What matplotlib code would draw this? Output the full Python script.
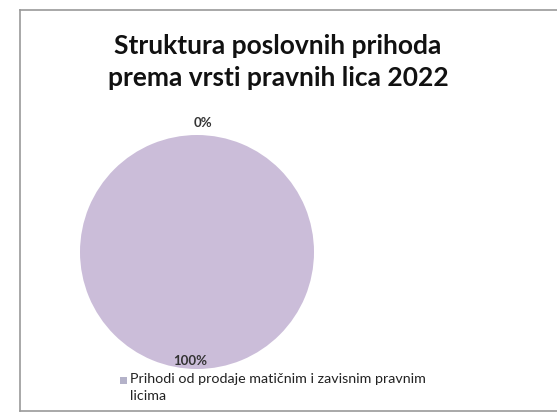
import matplotlib
matplotlib.use("Agg")
import matplotlib.pyplot as plt
import numpy as np
from matplotlib.patches import Rectangle
from matplotlib.lines import Line2D

categories = ["Prihodi od prodaje matičnim i zavisnim pravnim licima", "Ostali poslovni prihodi"]
values = [0, 100]
pct_labels = ["0%", "100%"]
title = "Struktura poslovnih prihoda\nprema vrsti pravnih lica 2022"

colors = ["#B4B2C9", "#CBBDD9"]

W, H = 557, 413
fig = plt.figure(figsize=(W / 100, H / 100), dpi=100)
fig.patch.set_facecolor("white")

# chart frame
fx = lambda px: px / W
fy = lambda py: (H - py) / H
for xs, ys in [((20, 557), (10, 10)), ((20, 20), (10, 411)), ((20, 557), (411, 411))]:
    fig.add_artist(Line2D([fx(x) for x in xs], [fy(y) for y in ys], transform=fig.transFigure,
                          color="#9a9a9a", linewidth=1.2))

fig.text(278 / W, fy(62), title, ha="center", va="center",
         fontsize=19, fontweight="bold", family="Lato", color="#111111", linespacing=1.45)

cx, cy, r = 197, 252, 117
ax = fig.add_axes([(cx - r) / W, (H - cy - r) / H, 2 * r / W, 2 * r / H])
wedges, _ = ax.pie(values, colors=colors, startangle=90, counterclock=False, radius=1.0,
                   wedgeprops=dict(linewidth=0))
ax.set_xlim(-1, 1)
ax.set_ylim(-1, 1)
ax.axis("off")
for w, lab, v in zip(wedges, pct_labels, values):
    ang = np.deg2rad((w.theta1 + w.theta2) / 2)
    dist = 1.1 if v == 0 else 0.93
    x, y = dist * np.cos(ang), dist * np.sin(ang)
    if v == 0:
        x += 0.05
    else:
        x -= 0.06
    ax.text(x, y, lab, ha="center", va="center", fontsize=9.5, family="Lato",
            fontweight="bold", color="#333333", clip_on=False)

# legend (only first entry visible)
fig.add_artist(Rectangle((120 / W, fy(384)), 7 / W, 7 / H, transform=fig.transFigure,
                         facecolor=colors[0], edgecolor="none"))
fig.text(130 / W, fy(373), "Prihodi od prodaje matičnim i zavisnim pravnim\nlicima",
         ha="left", va="top", fontsize=10.3, family="Lato", color="#222222", linespacing=1.5,
         transform=fig.transFigure)

fig.savefig("out.png", dpi=100, facecolor="white")
